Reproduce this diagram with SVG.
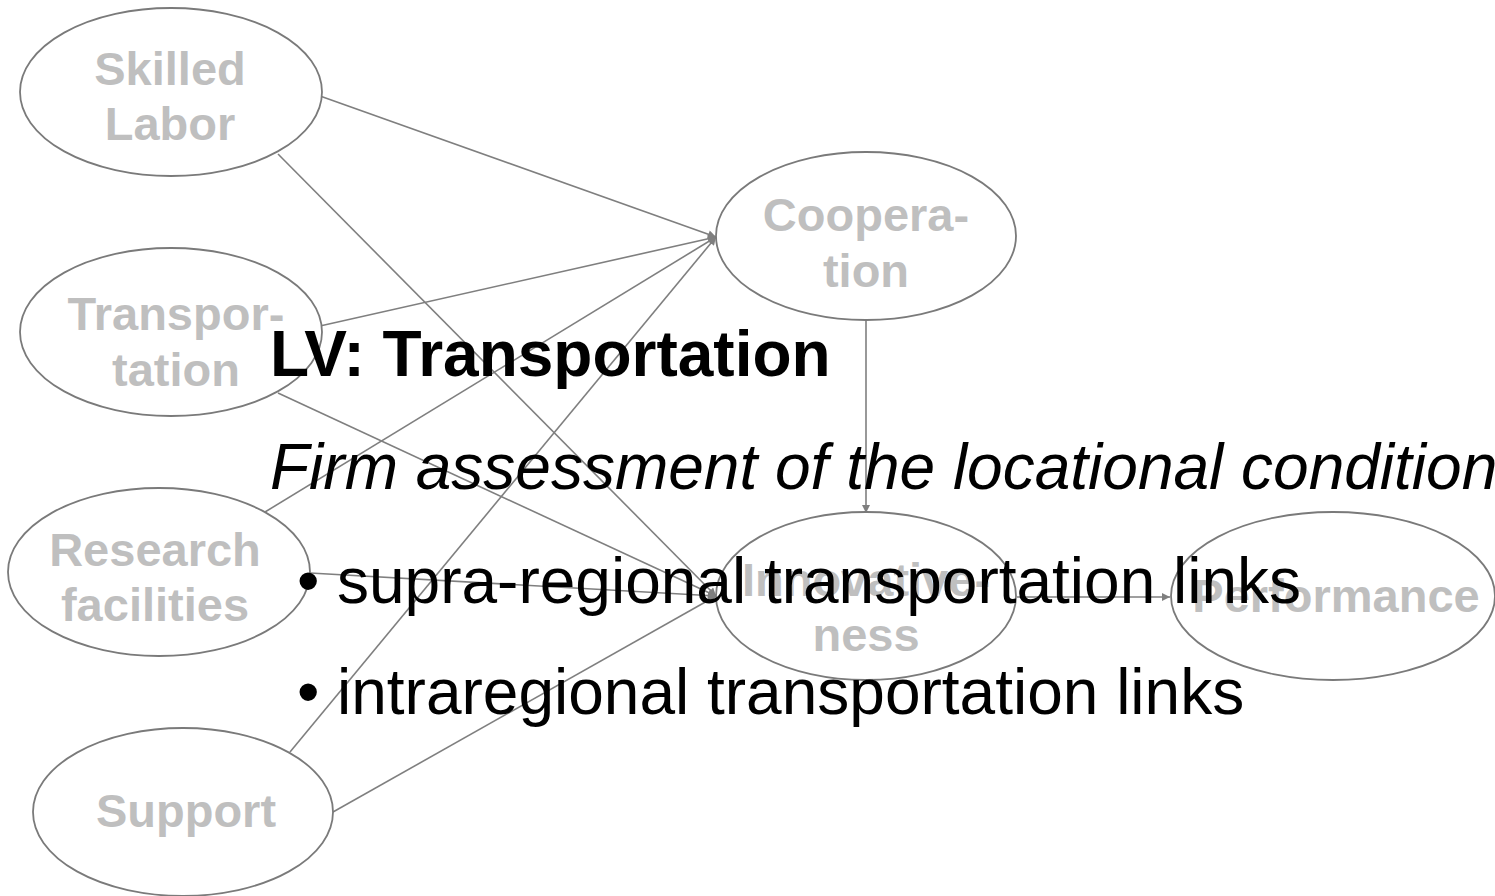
<svg xmlns="http://www.w3.org/2000/svg" width="1495" height="896" viewBox="0 0 1495 896">
<style>
.node{fill:#ffffff;stroke:#7a7a7a;stroke-width:1.8}
.lbl{font-family:"Liberation Sans",Arial,sans-serif;font-weight:bold;font-size:47px;fill:#bfbfbf;text-anchor:middle}
.edge{stroke:#7f7f7f;stroke-width:1.6;fill:none;marker-end:url(#arr)}
.ov{font-family:"Liberation Sans",Arial,sans-serif;font-size:64px;fill:#000000}
</style>
<defs>
<marker id="arr" viewBox="0 0 10 10" refX="10" refY="5" markerWidth="9" markerHeight="8" markerUnits="userSpaceOnUse" orient="auto">
<path d="M0,0 L10,5 L0,10 z" fill="#7f7f7f"/>
</marker>
</defs>
<rect width="1495" height="896" fill="#ffffff"/>
<g id="connectors">
<line class="edge" x1="320" y1="96" x2="716" y2="237"/>
<line class="edge" x1="320" y1="326" x2="716" y2="237"/>
<line class="edge" x1="265" y1="512" x2="716" y2="237"/>
<line class="edge" x1="290" y1="752" x2="716" y2="237"/>
<line class="edge" x1="278" y1="154" x2="716" y2="596"/>
<line class="edge" x1="278" y1="393" x2="716" y2="596"/>
<line class="edge" x1="310" y1="573" x2="716" y2="596"/>
<line class="edge" x1="333" y1="812" x2="716" y2="596"/>
<line class="edge" x1="866" y1="320" x2="866" y2="513"/>
<line class="edge" x1="1017" y1="597" x2="1170" y2="597"/>
</g>
<g id="skilled-labor">
<ellipse class="node" cx="171" cy="92" rx="151" ry="84"/>
<text class="lbl" x="170" y="85">Skilled</text>
<text class="lbl" x="170" y="140">Labor</text>
</g>
<g id="transportation">
<ellipse class="node" cx="171" cy="332" rx="151" ry="84"/>
<text class="lbl" x="176" y="330">Transpor-</text>
<text class="lbl" x="176" y="386">tation</text>
</g>
<g id="research">
<ellipse class="node" cx="159" cy="572" rx="151" ry="84"/>
<text class="lbl" x="155" y="566">Research</text>
<text class="lbl" x="155" y="621">facilities</text>
</g>
<g id="support">
<ellipse class="node" cx="183" cy="812" rx="150" ry="84"/>
<text class="lbl" x="186" y="827">Support</text>
</g>
<g id="cooperation">
<ellipse class="node" cx="866" cy="236" rx="150" ry="84"/>
<text class="lbl" x="866" y="231">Coopera-</text>
<text class="lbl" x="866" y="287">tion</text>
</g>
<g id="innovativeness">
<ellipse class="node" cx="866" cy="596" rx="150" ry="84"/>
<text class="lbl" x="866" y="596">Innovative-</text>
<text class="lbl" x="866" y="651">ness</text>
</g>
<g id="performance">
<ellipse class="node" cx="1333" cy="596" rx="162" ry="84"/>
<text class="lbl" x="1336" y="612">Performance</text>
</g>
<g id="overlay">
<text class="ov" x="270" y="376" style="font-weight:bold">LV: Transportation</text>
<text class="ov" x="270" y="489" style="font-style:italic">Firm assessment of the locational conditions</text>
<text class="ov" x="297" y="603">•</text>
<text class="ov" x="337" y="603">supra-regional transportation links</text>
<text class="ov" x="297" y="714">•</text>
<text class="ov" x="337" y="714">intraregional transportation links</text>
</g>
</svg>
